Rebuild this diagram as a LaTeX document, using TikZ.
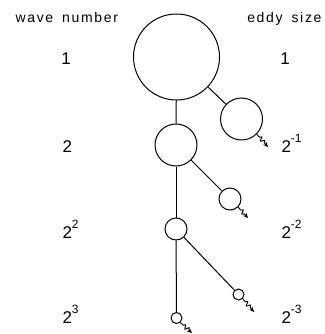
\documentclass[tikz,border=0pt]{standalone}
\usepackage{fontspec}
\setmainfont{Liberation Sans}
\newfontfamily\headfont[LetterSpace=12,WordSpace=1.6]{Liberation Sans}
\usepackage{tikz}
\usetikzlibrary{arrows.meta,decorations.pathmorphing}
\newcommand{\pw}[1]{\raisebox{0.55em}{\fontsize{12}{12}\selectfont #1}}

\begin{document}
\begin{tikzpicture}[x=1pt,y=-1pt,line width=1pt,
  eddy/.style={draw,circle,inner sep=0pt},
  head/.style={font=\headfont\fontsize{14}{14}\selectfont,inner sep=0pt},
  num/.style={font=\fontsize{17}{17}\selectfont,inner sep=0pt},
  wiggle/.style={-{Stealth[length=5pt,width=4.5pt]},line width=0.9pt,decorate,
    decoration={snake,amplitude=2pt,segment length=4.5pt,pre length=4pt,post length=4pt}}]
  \useasboundingbox (0,0) rectangle (324,334);
  % headings
  \node[head,anchor=base west] (wn) at (15,23) {wave number};
  \node[head,anchor=base east] (es) at (322,23) {eddy size};
  % wave numbers
  \node[num,anchor=base] (k0) at (66,65) {1};
  \node[num,anchor=base west] (k1) at (62,152) {2};
  \node[num,anchor=base west] (k2) at (62,238) {2\pw{2}};
  \node[num,anchor=base west] (k3) at (62,323) {2\pw{3}};
  % eddy sizes
  \node[num,anchor=base] (l0) at (285,65) {1};
  \node[num,anchor=base west] (l1) at (281,152) {2\pw{-1}};
  \node[num,anchor=base west] (l2) at (281,238) {2\pw{-2}};
  \node[num,anchor=base west] (l3) at (281,323) {2\pw{-3}};
  % eddies
  \node[eddy,minimum size=86pt] (e0) at (176.5,57) {};
  \node[eddy,minimum size=42pt] (e1) at (176,145) {};
  \node[eddy,minimum size=42pt] (e1r) at (241.5,119) {};
  \node[eddy,minimum size=22pt] (e2) at (176,229) {};
  \node[eddy,minimum size=22pt] (e2r) at (230,199) {};
  \node[eddy,minimum size=11pt] (e3) at (176.5,318) {};
  \node[eddy,minimum size=11pt] (e3r) at (238.5,294.5) {};
  \draw (e0) -- (e1);
  \draw (e0) -- (e1r);
  \draw (e1) -- (e2);
  \draw (e1) -- (e2r);
  \draw (e2) -- (e3);
  \draw (e2) -- (e3r);
  % decay
  \coordinate (w1) at (268,147);
  \coordinate (w2) at (248,218);
  \coordinate (w3) at (254,312);
  \coordinate (w4) at (192,333);
  \draw[wiggle] (e1r.-45) -- (w1);
  \draw[wiggle] (e2r.-45) -- (w2);
  \draw[wiggle] (e3r.-45) -- (w3);
  \draw[wiggle] (e3.-50) -- (w4);
\end{tikzpicture}
\end{document}
